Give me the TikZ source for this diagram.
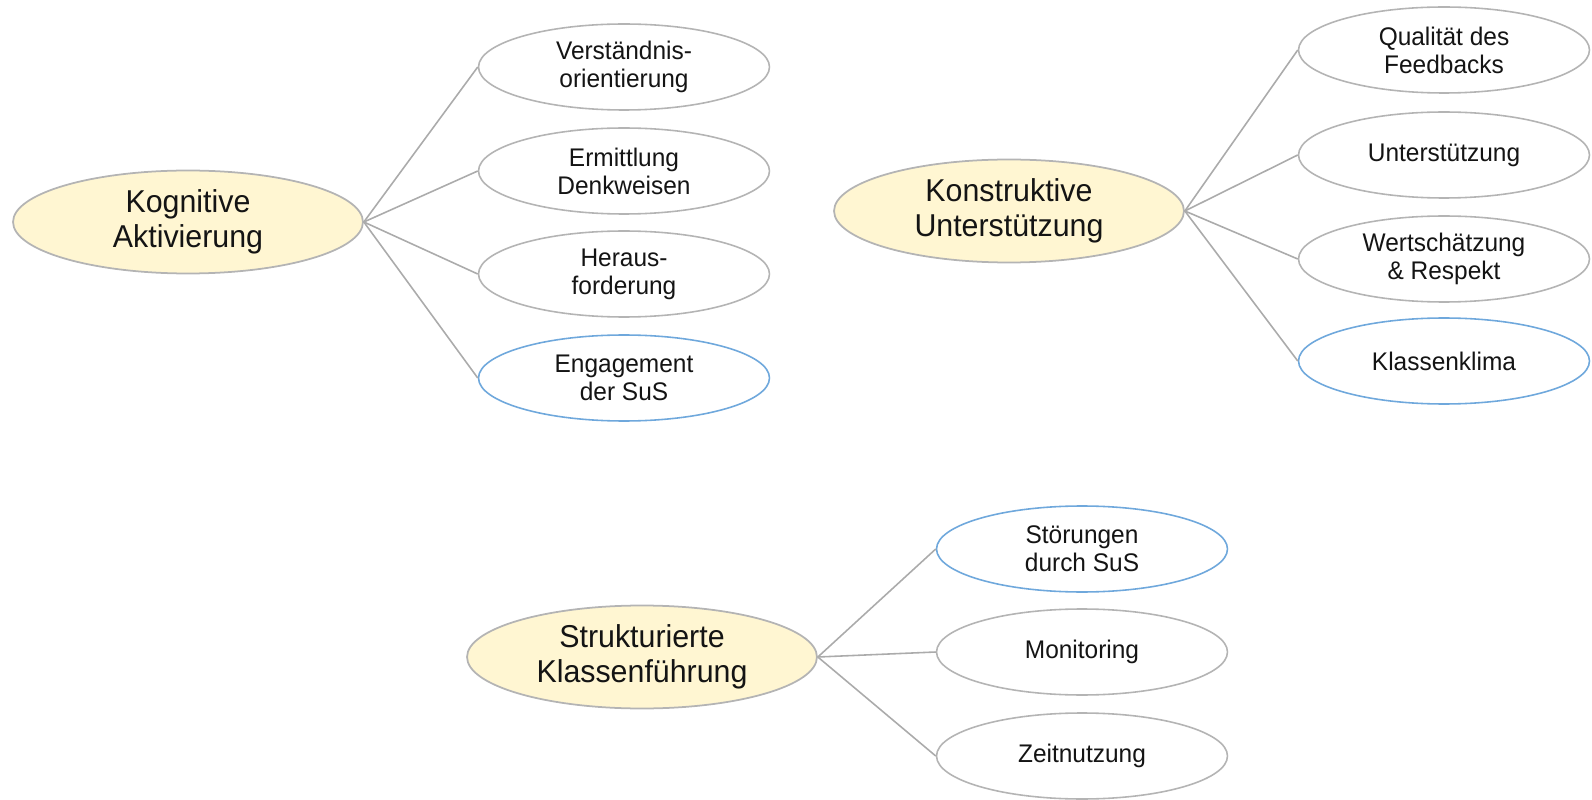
\documentclass[tikz,border=0pt]{standalone}
\usepackage{fontspec}
\setmainfont{Liberation Sans}[FakeStretch=0.96]
\usetikzlibrary{shapes.geometric}

\definecolor{hubfill}{HTML}{FFF6D2}
\definecolor{rimgray}{HTML}{B4B4B4}
\definecolor{rimblue}{HTML}{6FA8DC}
\definecolor{linkgray}{HTML}{ABABAB}
\definecolor{textdark}{HTML}{141414}

\tikzset{
  hub/.style={ellipse,draw=rimgray,fill=hubfill,line width=1pt,inner sep=0pt,
    minimum width=7cm,minimum height=2.06cm,align=center,text=textdark,
    font=\fontsize{18}{20}\selectfont},
  leaf/.style={ellipse,draw=rimgray,fill=white,line width=0.9pt,inner sep=0pt,
    minimum width=5.82cm,minimum height=1.72cm,align=center,text=textdark,
    font=\fontsize{14.5}{16}\selectfont},
  leafblue/.style={leaf,draw=rimblue},
  link/.style={draw=linkgray,line width=0.9pt}
}

\begin{document}
\begin{tikzpicture}[x=0.02cm,y=-0.02cm]
 \useasboundingbox (0,0) rectangle (1592,800);

 % Kognitive Aktivierung
 \node[hub] (kog) at (188,222) {Kognitive\\Aktivierung};
 \node[leaf] (kog1) at (624,67) {Verständnis-\\orientierung};
 \node[leaf] (kog2) at (624,171) {Ermittlung\\Denkweisen};
 \node[leaf] (kog3) at (624,274) {Heraus-\\forderung};
 \node[leafblue] (kog4) at (624,378) {Engagement\\der SuS};
 \foreach \c in {kog1,kog2,kog3,kog4}
  \draw[link] (kog.east) -- (\c.west);

 % Konstruktive Unterstuetzung
 \node[hub] (kon) at (1009,211) {Konstruktive\\Unterstützung};
 \node[leaf] (kon1) at (1444,50) {Qualität des\\Feedbacks};
 \node[leaf] (kon2) at (1444,155) {Unterstützung};
 \node[leaf] (kon3) at (1444,259) {Wertschätzung\\\& Respekt};
 \node[leafblue] (kon4) at (1444,361) {Klassenklima};
 \foreach \c in {kon1,kon2,kon3,kon4}
  \draw[link] (kon.east) -- (\c.west);

 % Strukturierte Klassenfuehrung
 \node[hub] (str) at (642,657) {Strukturierte\\Klassenführung};
 \node[leafblue] (str1) at (1082,549) {Störungen\\durch SuS};
 \node[leaf] (str2) at (1082,652) {Monitoring};
 \node[leaf] (str3) at (1082,756) {Zeitnutzung};
 \foreach \c in {str1,str2,str3}
  \draw[link] (str.east) -- (\c.west);
\end{tikzpicture}
\end{document}
